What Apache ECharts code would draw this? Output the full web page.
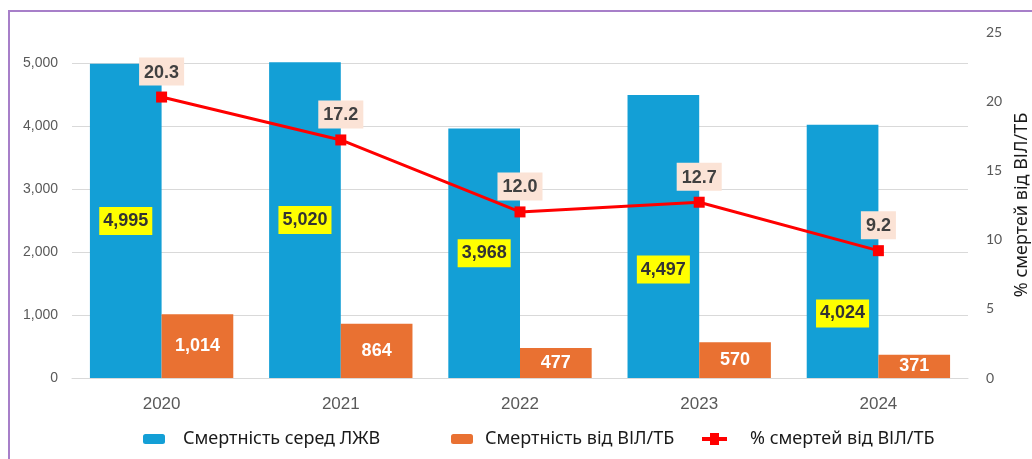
<!DOCTYPE html>
<html>
<head>
<meta charset="utf-8">
<script src="https://cdn.jsdelivr.net/npm/echarts@6/dist/echarts.min.js"></script>
<style>
  html, body { margin: 0; padding: 0; background: #fff; }
  #chart { width: 1032px; height: 459px; }
  .frame {
    position: absolute; left: 8px; top: 10px; width: 1040px; height: 470px;
    border-left: 2px solid #a77fc9; border-top: 2px solid #a77fc9;
    pointer-events: none;
  }
</style>
</head>
<body>
<div id="chart"></div>
<div class="frame"></div>
<script>
const years = ['2020', '2021', '2022', '2023', '2024']
const deathsPLHIV = [4995, 5020, 3968, 4497, 4024]
const deathsHivTb = [1014, 864, 477, 570, 371]
const pctHivTb = [20.3, 17.2, 12.0, 12.7, 9.2]

const names = ['Смертність серед ЛЖВ', 'Смертність від ВІЛ/ТБ', '% смертей від ВІЛ/ТБ']

// ручний зсув підписів синіх стовпців вниз, щоб не налазили на лінію
const blueLabelShift = [0, 0, 0, 33, 62]

const chart = echarts.init(document.getElementById('chart'))

const legendText = (gap) => ({ color: '#1a1a1a', fontSize: 18, fontFamily: 'Noto Sans', padding: [0, 0, 0, gap] })
const fmt = v => v.toLocaleString('en-US')

chart.setOption({
  animation: false,
  grid: { left: 72, right: 64, top: 32, bottom: 81, outerBoundsMode: 'none' },
  legend: [
    { data: [names[0]], left: 143, top: 430, itemWidth: 22, itemHeight: 10, textStyle: legendText(13), padding: 0 },
    { data: [names[1]], left: 451, top: 430, itemWidth: 22, itemHeight: 10, textStyle: legendText(7), padding: 0 },
    {
      data: [{ name: names[2], icon: 'path://M0,4 H8 V0 H17 V4 H25 V8 H17 V12 H8 V8 H0 Z' }],
      left: 702, top: 430, itemWidth: 25, itemHeight: 12, textStyle: legendText(18), padding: 0
    }
  ],
  xAxis: {
    type: 'category',
    data: years,
    axisLine: { lineStyle: { color: '#d9d9d9', width: 1 } },
    axisTick: { show: false },
    axisLabel: { color: '#595959', fontSize: 17, margin: 18, fontFamily: 'Liberation Sans' }
  },
  yAxis: [
    {
      type: 'value',
      min: 0,
      max: 5500,
      interval: 1000,
      axisLine: { show: false },
      axisTick: { show: false },
      splitLine: { showMaxLine: false, lineStyle: { color: '#d9d9d9' } },
      axisLabel: {
        showMaxLabel: false,
        color: '#595959', fontSize: 14, margin: 14, fontFamily: 'Liberation Sans',
        formatter: fmt
      }
    },
    {
      type: 'value',
      min: 0,
      max: 25,
      interval: 5,
      name: '% смертей від ВІЛ/ТБ',
      nameLocation: 'middle',
      nameRotate: 90,
      nameGap: 43,
      nameTextStyle: { color: '#1a1a1a', fontSize: 18, fontFamily: 'Noto Sans' },
      axisLine: { show: false },
      axisTick: { show: false },
      splitLine: { show: false },
      axisLabel: { color: '#595959', fontSize: 14, margin: 18, fontFamily: 'Lato' }
    }
  ],
  series: [
    {
      name: names[0],
      type: 'bar',
      data: deathsPLHIV.map((v, i) => ({ value: v, label: { offset: [0, blueLabelShift[i]] } })),
      barGap: '0%',
      barCategoryGap: '20%',
      itemStyle: { color: '#139fd6' },
      label: {
        show: true,
        position: 'inside',
        formatter: p => fmt(p.value),
        color: '#333', fontSize: 18, fontWeight: 'bold', fontFamily: 'Liberation Sans',
        backgroundColor: '#ffff00', padding: [6, 4, 4, 4]
      }
    },
    {
      name: names[1],
      type: 'bar',
      data: deathsHivTb,
      itemStyle: { color: '#e97132' },
      label: {
        show: true,
        position: 'inside',
        formatter: p => fmt(p.value),
        color: '#fff', fontSize: 18, fontWeight: 'bold', fontFamily: 'Liberation Sans'
      }
    },
    {
      name: names[2],
      type: 'line',
      yAxisIndex: 1,
      data: pctHivTb,
      symbol: 'rect',
      symbolSize: 11,
      z: 5,
      lineStyle: { color: '#ff0000', width: 3 },
      itemStyle: { color: '#ff0000' },
      label: {
        show: true,
        position: 'top',
        distance: 6,
        formatter: p => p.value.toFixed(1),
        color: '#404040', fontSize: 18, fontWeight: 'bold', fontFamily: 'Liberation Sans',
        backgroundColor: '#fbe3d6', padding: [6, 5, 4, 5]
      }
    }
  ]
})
</script>
</body>
</html>
